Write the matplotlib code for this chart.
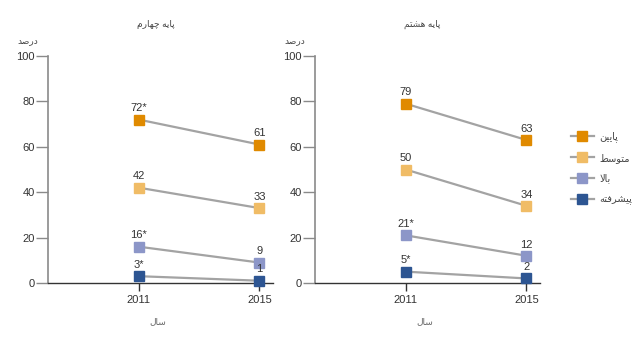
import matplotlib
matplotlib.use("Agg")
import matplotlib.pyplot as plt
from matplotlib.lines import Line2D

# ---- data ----
years = [2011, 2015]
levels = ["پایین", "متوسط", "بالا", "پیشرفته"]
colors = ["#E08A00", "#F0BC66", "#8C96C8", "#2D5592"]

grade4_title = "پایه چهارم"
grade8_title = "پایه هشتم"
grade4_labels = [["72*", "61"], ["42", "33"], ["16*", "9"], ["3*", "1"]]
grade8_labels = [["79", "63"], ["50", "34"], ["21*", "12"], ["5*", "2"]]

yticks = [0, 20, 40, 60, 80, 100]
ylabel = "درصد"
xlabel = "سال"

# ---- small Persian shaper (matplotlib has no complex text layout) ----
# iso, final, initial, medial
FORMS = {
    "ا": ("\uFE8D", "\uFE8E", None, None),
    "ب": ("\uFE8F", "\uFE90", "\uFE91", "\uFE92"),
    "پ": ("\uFB56", "\uFB57", "\uFB58", "\uFB59"),
    "ت": ("\uFE95", "\uFE96", "\uFE97", "\uFE98"),
    "چ": ("\uFB7A", "\uFB7B", "\uFB7C", "\uFB7D"),
    "د": ("\uFEA9", "\uFEAA", None, None),
    "ر": ("\uFEAD", "\uFEAE", None, None),
    "س": ("\uFEB1", "\uFEB2", "\uFEB3", "\uFEB4"),
    "ش": ("\uFEB5", "\uFEB6", "\uFEB7", "\uFEB8"),
    "ص": ("\uFEB9", "\uFEBA", "\uFEBB", "\uFEBC"),
    "ط": ("\uFEC1", "\uFEC2", "\uFEC3", "\uFEC4"),
    "ف": ("\uFED1", "\uFED2", "\uFED3", "\uFED4"),
    "ق": ("\uFED5", "\uFED6", "\uFED7", "\uFED8"),
    "ل": ("\uFEDD", "\uFEDE", "\uFEDF", "\uFEE0"),
    "م": ("\uFEE1", "\uFEE2", "\uFEE3", "\uFEE4"),
    "ن": ("\uFEE5", "\uFEE6", "\uFEE7", "\uFEE8"),
    "ه": ("\uFEE9", "\uFEEA", "\uFEEB", "\uFEEC"),
    "و": ("\uFEED", "\uFEEE", None, None),
    "ی": ("\uFBFC", "\uFBFD", "\uFBFE", "\uFBFF"),
}


def shape(s):
    out = []
    i = 0
    n = len(s)
    while i < n:
        c = s[i]
        if c not in FORMS:
            out.append(c)
            i += 1
            continue
        prev = s[i - 1] if i > 0 else None
        joins_prev = prev in FORMS and FORMS[prev][2] is not None
        # lam + alef ligature
        if c == "ل" and i + 1 < n and s[i + 1] == "ا":
            out.append("\uFEFC" if joins_prev else "\uFEFB")
            i += 2
            continue
        nxt = s[i + 1] if i + 1 < n else None
        joins_next = FORMS[c][2] is not None and nxt in FORMS
        iso, fin, ini, med = FORMS[c]
        if joins_prev and joins_next:
            out.append(med)
        elif joins_prev:
            out.append(fin)
        elif joins_next:
            out.append(ini)
        else:
            out.append(iso)
        i += 1
    return "".join(out)[::-1]


def value(label):
    return float(label.rstrip("*"))


plt.rcParams["font.family"] = ["Liberation Sans", "DejaVu Sans"]

fig = plt.figure(figsize=(6.42, 3.46), dpi=100)
ax1 = fig.add_axes([0.0748, 0.1821, 0.3505, 0.656])
ax2 = fig.add_axes([0.4907, 0.1821, 0.3505, 0.656])

line_col = "#A3A3A3"

for ax, title, labs in [(ax1, grade4_title, grade4_labels),
                        (ax2, grade8_title, grade8_labels)]:
    for lab, col in zip(labs, colors):
        v = [value(t) for t in lab]
        ax.plot(years, v, color=line_col, lw=1.6, zorder=2, clip_on=False)
        ax.plot(years, v, ls="none", marker="s", ms=6.8, mfc=col, mec=col,
                zorder=3, clip_on=False)
        for x, y, t in zip(years, v, lab):
            ax.annotate(t, (x, y), xytext=(0, 4.5), textcoords="offset points",
                        ha="center", va="bottom", fontsize=8, color="#333333")
    ax.set_xlim(2008, 2015.45)
    ax.set_ylim(0, 100)
    ax.set_xticks(years)
    ax.set_yticks(yticks)
    ax.spines["top"].set_visible(False)
    ax.spines["right"].set_visible(False)
    ax.spines["left"].set_color("#8A8A8A")
    ax.spines["left"].set_linewidth(1.2)
    ax.spines["bottom"].set_color("#333333")
    ax.spines["bottom"].set_linewidth(1.0)
    ax.tick_params(axis="y", length=8.5, width=1.0, color="#8A8A8A", pad=1,
                   labelsize=8, labelcolor="#333333")
    ax.tick_params(axis="x", length=6, width=1.0, color="#333333", pad=2.5,
                   labelsize=8, labelcolor="#333333")
    # the zero tick runs on from the baseline
    ax.yaxis.get_major_ticks()[0].tick1line.set_color("#333333")
    ax.text(0.477, 1.14, shape(title), transform=ax.transAxes, ha="center",
            va="center", fontsize=6.5, color="#444444")
    ax.text(-0.09, 1.066, shape(ylabel), transform=ax.transAxes, ha="center",
            va="center", fontsize=6.5, color="#444444")
    ax.text(0.487, -0.172, shape(xlabel), transform=ax.transAxes, ha="center",
            va="center", fontsize=6.5, color="#666666")

handles = [Line2D([0], [0], color=line_col, lw=1.6, marker="s", ms=6.8,
                  mfc=c, mec=c) for c in colors]
fig.legend(handles, [shape(l) for l in levels], loc="center left",
           bbox_to_anchor=(0.875, 0.514), frameon=False, fontsize=7,
           handlelength=2.4, labelspacing=1.1, handletextpad=0.6,
           labelcolor="#444444")

fig.savefig("out.png", dpi=100)
